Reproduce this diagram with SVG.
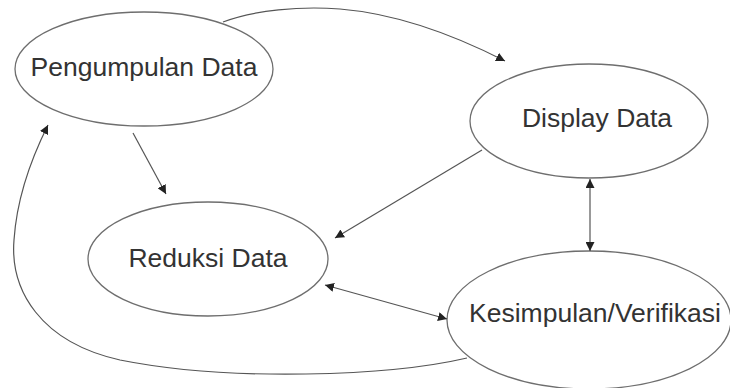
<svg xmlns="http://www.w3.org/2000/svg" width="730" height="388" viewBox="0 0 730 388">
<style>
.node ellipse{fill:#fff;stroke:#6e6e6e;stroke-width:1.3}
.node text{font-family:"Liberation Sans",Arial,sans-serif;font-size:26.5px;fill:#333;text-anchor:middle}
.conn path{fill:none;stroke:#555;stroke-width:1.2}
</style>
<defs>
<marker id="arr" viewBox="0 0 10 10" refX="10" refY="5" markerWidth="9" markerHeight="9" markerUnits="userSpaceOnUse" orient="auto-start-reverse">
<path d="M0,0 L10,5 L0,10 Z" fill="#222"/>
</marker>
</defs>
<rect width="730" height="388" fill="#fff"/>
<g id="n1" class="node">
<ellipse cx="144" cy="69" rx="129" ry="57"/>
<text x="144" y="76">Pengumpulan Data</text>
</g>
<g id="n2" class="node">
<ellipse cx="589" cy="121" rx="119" ry="57"/>
<text x="597" y="127">Display Data</text>
</g>
<g id="n3" class="node">
<ellipse cx="208" cy="259" rx="120" ry="57"/>
<text x="208" y="267">Reduksi Data</text>
</g>
<g id="n4" class="node">
<ellipse cx="589" cy="320" rx="142" ry="69"/>
<text x="595" y="322">Kesimpulan/Verifikasi</text>
</g>
<g id="connectors" class="conn">
<path d="M223,22 C255,10 300,6 340,9 C400,14 460,38 505,61" marker-end="url(#arr)"/>
<path d="M133,133 L166,194" marker-end="url(#arr)"/>
<path d="M482,150 L335,238" marker-end="url(#arr)"/>
<path d="M590,179 L590,251" marker-start="url(#arr)" marker-end="url(#arr)"/>
<path d="M325,285 L447,319" marker-start="url(#arr)" marker-end="url(#arr)"/>
<path d="M467,358 C390,376 230,382 120,360 C40,342 10,290 14,240 C17,195 33,155 48,125" marker-end="url(#arr)"/>
</g>
</svg>
